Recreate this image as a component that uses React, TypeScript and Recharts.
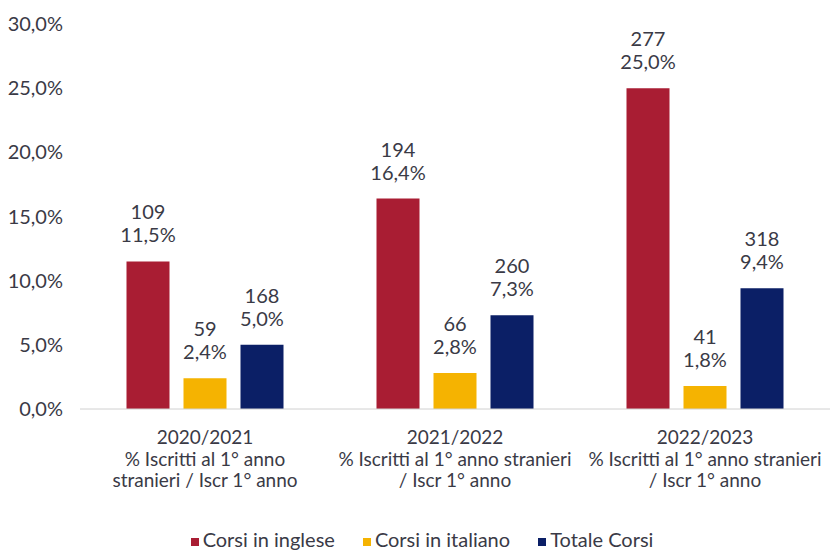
import { BarChart, Bar, XAxis, YAxis, Legend, LabelList } from 'recharts'

const years = ['2020/2021', '2021/2022', '2022/2023']
const subtitles = [
  ['% Iscritti al 1° anno', 'stranieri / Iscr 1° anno'],
  ['% Iscritti al 1° anno stranieri', '/ Iscr 1° anno'],
  ['% Iscritti al 1° anno stranieri', '/ Iscr 1° anno'],
]
const inglesePct = [11.5, 16.4, 25.0]
const ingleseCount = [109, 194, 277]
const italianoPct = [2.4, 2.8, 1.8]
const italianoCount = [59, 66, 41]
const totalePct = [5.0, 7.3, 9.4]
const totaleCount = [168, 260, 318]
const yTicks = [0, 5, 10, 15, 20, 25, 30]

const data = years.map((y, i) => ({
  year: y,
  inglese: inglesePct[i],
  italiano: italianoPct[i],
  totale: totalePct[i],
}))

const FONT = 'Lato, "Open Sans", sans-serif'
const TEXT = '#3a3a46'

const fmt = (v: number) => v.toFixed(1).replace('.', ',') + '%'

const CategoryTick = ({ x, y, payload, index }: any) => {
  const lines = [payload.value, ...subtitles[index]]
  return (
    <text x={x} y={y} textAnchor="middle" fill={TEXT} fontSize={19} fontFamily={FONT}>
      {lines.map((l: string, k: number) => (
        <tspan key={k} x={x} dy={k === 0 ? 27 : 21.5}>{l}</tspan>
      ))}
    </text>
  )
}

const makeLabel = (counts: number[]) => (props: any) => {
  const { x, y, width, value, index } = props
  const cx = x + width / 2
  return (
    <text x={cx} y={y} textAnchor="middle" fill={TEXT} fontSize={20} fontFamily={FONT}>
      <tspan x={cx} dy={-42}>{counts[index]}</tspan>
      <tspan x={cx} dy={23}>{fmt(value)}</tspan>
    </text>
  )
}

export default function App() {
  return (
    <div style={{ position: 'absolute', left: 0, top: 0, background: '#fff' }}>
      <BarChart
        width={830}
        height={554}
        data={data}
        margin={{ top: 24, right: 0, left: 0, bottom: 0 }}
        barCategoryGap="18.6%"
        barGap={14}
      >
        <XAxis
          dataKey="year"
          tick={<CategoryTick />}
          tickLine={false}
          axisLine={{ stroke: '#d0d0d0' }}
          height={125}
          interval={0}
        />
        <YAxis
          width={80}
          domain={[0, 30]}
          ticks={yTicks}
          tickFormatter={fmt}
          axisLine={false}
          tickLine={false}
          tickMargin={11}
          tick={{ fill: TEXT, fontSize: 20, fontFamily: FONT }}
        />
        <Legend
          iconType="square"
          iconSize={8}
          wrapperStyle={{ fontFamily: FONT, fontSize: 20, lineHeight: '20px', color: TEXT, bottom: 5, paddingLeft: 12 }}
          formatter={(v: string, _e: any, i: number) => (
            <span style={{ color: TEXT, marginRight: i < 2 ? 18 : 0 }}>{v}</span>
          )}
        />
        <Bar dataKey="inglese" name="Corsi in inglese" fill="#a91d33" isAnimationActive={false}>
          <LabelList dataKey="inglese" content={makeLabel(ingleseCount)} />
        </Bar>
        <Bar dataKey="italiano" name="Corsi in italiano" fill="#f5b301" isAnimationActive={false}>
          <LabelList dataKey="italiano" content={makeLabel(italianoCount)} />
        </Bar>
        <Bar dataKey="totale" name="Totale Corsi" fill="#0b1f66" isAnimationActive={false}>
          <LabelList dataKey="totale" content={makeLabel(totaleCount)} />
        </Bar>
      </BarChart>
    </div>
  )
}
